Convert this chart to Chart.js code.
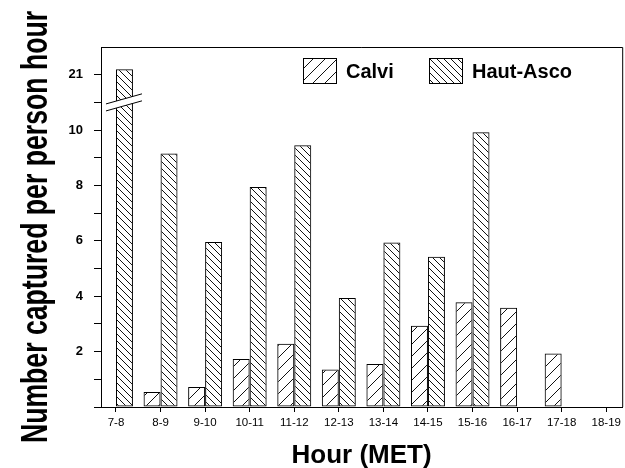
<!DOCTYPE html>
<html>
<head>
<meta charset="utf-8">
<script src="https://cdn.jsdelivr.net/npm/chart.js@4"></script>
<style>
  body { margin: 0; background: #fff; }
</style>
</head>
<body>
<canvas id="chart" width="625" height="468"></canvas>
<script>
const hours = ["7-8", "8-9", "9-10", "10-11", "11-12", "12-13", "13-14", "14-15", "15-16", "16-17", "17-18", "18-19"];
const calvi = [null, 0.54, 0.72, 1.73, 2.28, 1.35, 1.55, 2.93, 3.78, 3.58, 1.93, null];
const hautAsco = [21.2, 9.15, 5.96, 7.94, 9.45, 3.94, 5.94, 5.43, 9.92, null, null, null];
const yTickLabels = [2, 4, 6, 8, 10, 21];

// broken y axis: everything above 10 is drawn 9 units lower (21 sits where 12 would be)
const breakShift = 9;
const breakAt = 11;
const toAxis = (v) => (v == null ? null : v > 10 ? v - breakShift : v);
const fromAxis = (v) => (v > 10 ? v + breakShift : v);

const canvas = document.getElementById("chart");
const ctx = canvas.getContext("2d");
const FONT = "'Liberation Sans', Arial, Helvetica, sans-serif";

function hatch(size, forward) {
  const c = document.createElement("canvas");
  c.width = size;
  c.height = size;
  const g = c.getContext("2d");
  g.strokeStyle = "#111";
  g.lineWidth = 1;
  g.beginPath();
  if (forward) {
    g.moveTo(0, size); g.lineTo(size, 0);
    g.moveTo(-1, 1); g.lineTo(1, -1);
    g.moveTo(size - 1, size + 1); g.lineTo(size + 1, size - 1);
  } else {
    g.moveTo(0, 0); g.lineTo(size, size);
    g.moveTo(size - 1, -1); g.lineTo(size + 1, 1);
    g.moveTo(-1, size - 1); g.lineTo(1, size + 1);
  }
  g.stroke();
  return ctx.createPattern(c, "repeat");
}

const calviFill = hatch(12, true);
const hautFill = hatch(7, false);

// frame, axis break, legend and the y title
const extras = {
  id: "extras",
  afterDraw(chart) {
    const { ctx, chartArea, scales } = chart;
    const { left, right, top, bottom } = chartArea;
    ctx.save();
    ctx.strokeStyle = "#000";
    ctx.lineWidth = 1;
    ctx.beginPath();
    ctx.moveTo(left, top + 0.5);
    ctx.lineTo(right + 0.5, top + 0.5);
    ctx.lineTo(right + 0.5, bottom);
    ctx.stroke();

    // break marks across the first bar
    const cy = scales.y.getPixelForValue(breakAt);
    const cx = scales.x.getPixelForValue(0) + 8;
    const half = 18;
    const slope = -0.28;
    const gap = 3.5;
    ctx.fillStyle = "#fff";
    ctx.beginPath();
    ctx.moveTo(cx - half, cy - gap - half * slope);
    ctx.lineTo(cx + half, cy - gap + half * slope);
    ctx.lineTo(cx + half, cy + gap + half * slope);
    ctx.lineTo(cx - half, cy + gap - half * slope);
    ctx.closePath();
    ctx.fill();
    ctx.beginPath();
    ctx.moveTo(cx - half, cy - gap - half * slope);
    ctx.lineTo(cx + half, cy - gap + half * slope);
    ctx.moveTo(cx - half, cy + gap - half * slope);
    ctx.lineTo(cx + half, cy + gap + half * slope);
    ctx.stroke();

    // legend
    const items = [
      { text: "Calvi", fill: calviFill, x: left + 202 },
      { text: "Haut-Asco", fill: hautFill, x: left + 328 },
    ];
    ctx.font = "bold 20px " + FONT;
    ctx.textBaseline = "middle";
    ctx.textAlign = "left";
    items.forEach((item) => {
      ctx.fillStyle = item.fill;
      ctx.fillRect(item.x, top + 11, 33, 25);
      ctx.strokeRect(item.x + 0.5, top + 11.5, 33, 25);
      ctx.fillStyle = "#000";
      ctx.fillText(item.text, item.x + 43, top + 25);
    });

    // y title, tall and narrow like the original
    ctx.translate(left - 54, (top + bottom) / 2);
    ctx.rotate(-Math.PI / 2);
    ctx.scale(0.72, 1);
    ctx.font = "bold 37px " + FONT;
    ctx.textAlign = "center";
    ctx.textBaseline = "alphabetic";
    ctx.fillStyle = "#000";
    ctx.fillText("Number captured per person hour", 0, 0);
    ctx.restore();
  },
};

new Chart(canvas, {
  type: "bar",
  data: {
    datasets: [
      {
        label: "Calvi",
        data: calvi.map((v, i) => ({ x: i, y: toAxis(v) })),
        backgroundColor: calviFill,
        borderColor: "#000",
        borderWidth: 1,
        borderSkipped: false,
      },
      {
        label: "Haut-Asco",
        data: hautAsco.map((v, i) => ({ x: i, y: toAxis(v) })),
        backgroundColor: hautFill,
        borderColor: "#000",
        borderWidth: 1,
        borderSkipped: false,
      },
    ],
  },
  options: {
    responsive: false,
    animation: false,
    categoryPercentage: 0.762,
    barPercentage: 1,
    layout: { padding: { top: 47, right: 2, left: 0, bottom: 0 } },
    plugins: { legend: { display: false }, tooltip: { enabled: false } },
    scales: {
      x: {
        type: "linear",
        offset: false,
        min: -0.336,
        max: 11.358,
        afterBuildTicks: (axis) => {
          axis.ticks = hours.map((h, i) => ({ value: i }));
        },
        afterFit: (axis) => {
          axis.height = 61;
        },
        grid: { drawOnChartArea: false, offset: false, tickLength: 5, tickColor: "#000" },
        border: { color: "#000", width: 1 },
        ticks: {
          color: "#000",
          padding: 4,
          maxRotation: 0,
          autoSkip: false,
          font: { family: FONT, size: 11.5 },
          callback: (v) => hours[v] ?? "",
        },
        title: {
          display: true,
          text: "Hour (MET)",
          color: "#000",
          font: { family: FONT, size: 26, weight: "bold", lineHeight: 0.92 },
          padding: { top: 0, bottom: 0 },
        },
      },
      y: {
        min: 0,
        max: 13,
        afterBuildTicks: (axis) => {
          const t = [];
          for (let v = 0; v <= 12; v++) t.push({ value: v });
          axis.ticks = t;
        },
        afterFit: (axis) => {
          axis.width = 101;
        },
        grid: { drawOnChartArea: false, tickLength: 7, tickColor: "#000" },
        border: { color: "#000", width: 1 },
        ticks: {
          color: "#000",
          padding: 11,
          font: { family: FONT, size: 13, weight: "bold" },
          callback: (v) => (v > 0 && yTickLabels.includes(fromAxis(v)) ? String(fromAxis(v)) : ""),
        },
      },
    },
  },
  plugins: [extras],
});
</script>
</body>
</html>
